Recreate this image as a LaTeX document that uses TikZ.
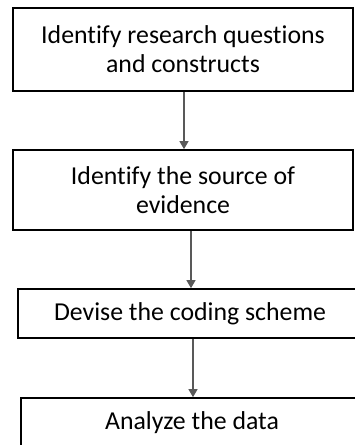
\documentclass[tikz,border=0pt]{standalone}
\usepackage{fontspec}
\setmainfont{Carlito}[Ligatures=CommonOff]
\usetikzlibrary{arrows.meta}

\begin{document}
\begin{tikzpicture}[x=1pt,y=-1pt]
	\tikzset{stepbox/.style={shape=rectangle,draw=black,line width=1.7pt,align=center,inner sep=0pt,font=\fontsize{25.8}{29}\selectfont},
		flow/.style={draw=black!65,line width=1.2pt,-{Triangle[width=9pt,length=8pt,fill=black!65]}}}
	\useasboundingbox (0,0) rectangle (354,445);
	\node[stepbox,minimum width=340pt,minimum height=83pt] (rq) at (183,49.5)  {Identify research questions\\and constructs};
	\node[stepbox,minimum width=340pt,minimum height=80pt] (src) at (183,190) {Identify the source of\\evidence};
	\node[stepbox,minimum width=400pt,minimum height=49pt] (code) at (218,313.5) {\hspace*{-56pt}Devise the coding scheme};
	\node[stepbox,minimum width=400pt,minimum height=50pt] (data) at (221,423) {\hspace*{-58pt}Analyze the data};
	\draw[flow] ([xshift=1pt]rq.south) -- ([xshift=1pt]rq.south |- src.north);
	\draw[flow] ([xshift=8pt]src.south) -- ([xshift=8pt]src.south |- code.north);
	\draw[flow] ([xshift=-25pt]code.south) -- ([xshift=-25pt]code.south |- data.north);
\end{tikzpicture}
\end{document}
